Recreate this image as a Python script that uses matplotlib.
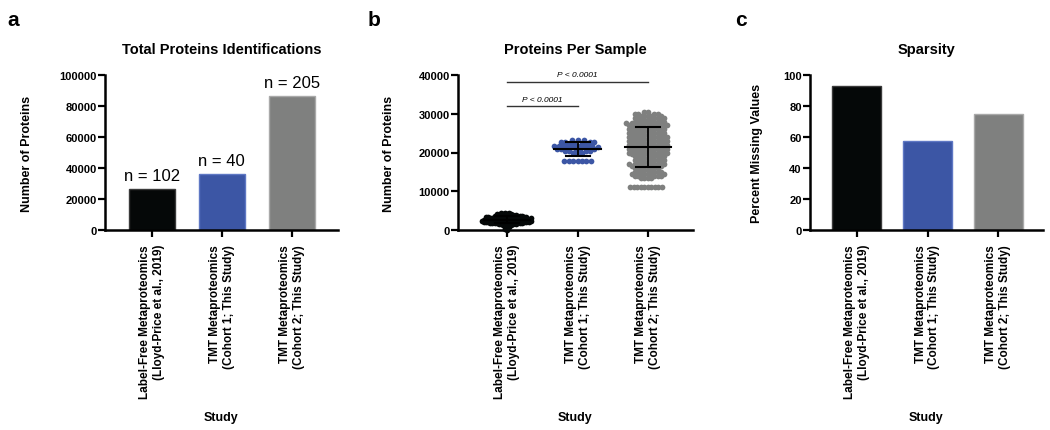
import matplotlib
matplotlib.use('Agg')
import matplotlib.pyplot as plt
import numpy as np

plt.rcParams['font.family'] = ['Liberation Sans', 'DejaVu Sans']
plt.rcParams['font.weight'] = 'bold'
plt.rcParams['axes.labelweight'] = 'bold'

studies = ['Label-Free Metaproteomics\n(Lloyd-Price et al., 2019)',
           'TMT Metaproteomics\n(Cohort 1; This Study)',
           'TMT Metaproteomics\n(Cohort 2; This Study)']
colors = ['#050808', '#3c56a5', '#7f807f']
edge_colors = ['#3a3a3a', '#5f78c4', '#a9a9a9']

# panel a
total_proteins = [26500, 36300, 86600]
n_samples = [102, 40, 205]

# panel c
percent_missing = [93.1, 57.1, 74.9]

lf_levels = [0, 300, 600, 900, 1200, 1500, 1800, 2100, 2400, 2700, 3000, 3300, 3600, 3900, 4200, 4500]
lf_counts = [1, 1, 1, 2, 3, 6, 10, 12, 12, 12, 11, 10, 8, 6, 4, 3]

c1_levels = [17800, 19800, 20300, 20800, 21300, 21800, 22300, 22800, 23300]
c1_counts = [7, 3, 4, 5, 5, 5, 4, 4, 3]

c2_levels = [11100, 13500, 14000, 14500, 15000, 15500, 16000, 16500, 17000, 17500,
             18000, 18500, 19000, 19500, 20000, 20500, 21000, 21500, 22000, 22500,
             23000, 23500, 24000, 24500, 25000, 25500, 26000, 26500, 27000, 27500,
             28000, 28500, 29000, 29500, 30000, 30500]
c2_counts = [10, 4, 5, 6, 5, 4, 4, 6, 6, 5,
             5, 5, 5, 6, 7, 6, 7, 6, 7, 6,
             7, 6, 7, 6, 6, 6, 6, 6, 7, 7,
             5, 5, 5, 5, 4, 2]

groups = [np.repeat(lf_levels, lf_counts),
          np.repeat(c1_levels, c1_counts),
          np.repeat(c2_levels, c2_counts)]


def swarm_offsets(y_px, d):
    order = np.argsort(y_px, kind='stable')
    xs = np.zeros(len(y_px))
    done = []
    for i in order:
        y = y_px[i]
        near = [(x, yy) for x, yy in done if abs(y - yy) < d]
        cands = [0.0]
        for x, yy in near:
            dx = np.sqrt(d * d - (y - yy) ** 2)
            cands += [x - dx, x + dx]
        cands.sort(key=abs)
        c = 0.0
        for c in cands:
            if all((c - x) ** 2 + (y - yy) ** 2 >= d * d - 1e-6 for x, yy in near):
                break
        xs[i] = c
        done.append((c, y))
    return xs


def style(ax):
    for s in ['top', 'right']:
        ax.spines[s].set_visible(False)
    for s in ['left', 'bottom']:
        ax.spines[s].set_linewidth(1.8)
    ax.tick_params(axis='both', width=1.6, length=5, labelsize=8)
    ax.tick_params(axis='y', pad=1)
    ax.tick_params(axis='x', pad=5)
    ax.set_xticks(range(3))
    ax.set_xticklabels(studies, rotation=90, ha='center', va='top',
                       multialignment='right', fontsize=8.5)
    ax.set_xlabel('Study', fontsize=9)
    ax.xaxis.set_label_coords(0.5, -1.17)


W, H = 1050, 431
fig = plt.figure(figsize=(W / 100, H / 100), dpi=100)
ax_a = fig.add_axes([105 / W, 200 / H, 233 / W, 155 / H])
ax_b = fig.add_axes([458 / W, 200 / H, 235 / W, 155 / H])
ax_c = fig.add_axes([810 / W, 200 / H, 233 / W, 155 / H])

# a
ax_a.bar(range(3), total_proteins, width=0.66, color=colors, edgecolor=edge_colors, linewidth=1)
for i, (v, n) in enumerate(zip(total_proteins, n_samples)):
    ax_a.text(i, v + 4000, 'n = %d' % n, ha='center', va='bottom', fontsize=12, fontweight='normal')
ax_a.set_xlim(-0.67, 2.66)
ax_a.set_ylim(0, 100000)
ax_a.set_yticks(range(0, 100001, 20000))
style(ax_a)
ax_a.set_ylabel('Number of Proteins', fontsize=9)
ax_a.yaxis.set_label_coords(-0.31, 0.5)
ax_a.text(0.5, 1.165, 'Total Proteins Identifications', transform=ax_a.transAxes,
          ha='center', va='center', fontsize=10.5)

# b
ax_b.set_xlim(-0.70, 2.64)
ax_b.set_ylim(0, 40000)
ax_b.set_yticks(range(0, 40001, 10000))
style(ax_b)
bb = ax_b.get_window_extent()
px_per_val = bb.height / 40000
px_per_cat = bb.width / (2.64 + 0.70)
diam = [2.3, 4.4, 3.5]
for i, vals in enumerate(groups):
    off = swarm_offsets(vals * px_per_val, diam[i]) / px_per_cat
    ax_b.scatter(i + off, vals, s=17, color=colors[i], linewidths=0, clip_on=False, zorder=3)
    m, sd = vals.mean(), vals.std(ddof=1)
    ax_b.plot([i - 0.33, i + 0.33], [m, m], color='black', lw=1.5, zorder=4)
    ax_b.plot([i, i], [m - sd, m + sd], color='black', lw=1.3, zorder=4)
    for e in (m - sd, m + sd):
        ax_b.plot([i - 0.17, i + 0.17], [e, e], color='black', lw=1.5, zorder=4)

for a, b, h in [(0, 1, 32000), (0, 2, 38200)]:
    ax_b.plot([a, b], [h, h], color='#333333', lw=1)
    ax_b.text((a + b) / 2, h + 900, 'P < 0.0001', ha='center', va='bottom',
              fontsize=6, fontstyle='italic', fontweight='normal')
ax_b.set_ylabel('Number of Proteins', fontsize=9)
ax_b.yaxis.set_label_coords(-0.268, 0.5)
ax_b.text(0.5, 1.165, 'Proteins Per Sample', transform=ax_b.transAxes,
          ha='center', va='center', fontsize=10.5)

# c
ax_c.bar(range(3), percent_missing, width=0.69, color=colors, edgecolor=edge_colors, linewidth=1)
ax_c.set_xlim(-0.66, 2.63)
ax_c.set_ylim(0, 100)
ax_c.set_yticks(range(0, 101, 20))
style(ax_c)
ax_c.set_ylabel('Percent Missing Values', fontsize=9)
ax_c.yaxis.set_label_coords(-0.20, 0.5)
ax_c.text(0.5, 1.165, 'Sparsity', transform=ax_c.transAxes,
          ha='center', va='center', fontsize=10.5)

# panel letters
for x, letter in [(7, 'a'), (368, 'b'), (735, 'c')]:
    fig.text(x / W, 1 - 26 / H, letter, ha='left', va='baseline', fontsize=15)

fig.savefig('out.png', dpi=100)
